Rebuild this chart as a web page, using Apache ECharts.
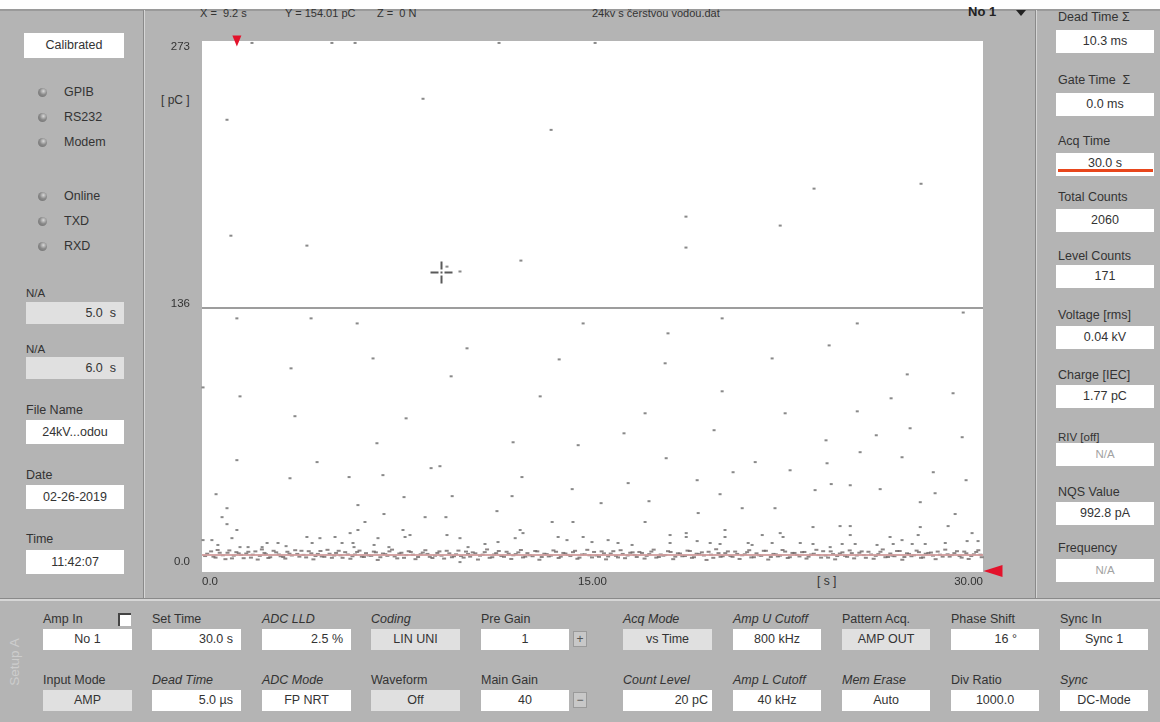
<!DOCTYPE html>
<html>
<head>
<meta charset="utf-8">
<script src="https://cdn.jsdelivr.net/npm/echarts@6/dist/echarts.min.js"></script>
<style>
  html, body { margin: 0; padding: 0; }
  body {
    width: 1160px; height: 722px; position: relative; overflow: hidden;
    background: #b4b4b4; color: #333;
    font-family: "Liberation Sans", Arial, sans-serif; font-size: 12.5px;
  }
  .t { position: absolute; white-space: nowrap; line-height: 14px; }
  .box {
    position: absolute; background: #fff; box-sizing: border-box;
    height: 22px; line-height: 22px; text-align: center; white-space: nowrap;
  }
  .grey { background: #e0e0e0; }
  .r { text-align: right; padding-right: 8px; }
  .na { color: #a2a2a2; }
  .i { font-style: italic; }
  .led {
    position: absolute; width: 9px; height: 9px; border-radius: 50%;
    background: radial-gradient(circle at 60% 35%, #d8d8d8 0, #8a8a8a 45%, #6c6c6c 100%);
  }
  .vline { position: absolute; top: 10px; height: 589px; width: 1px; background: #8a8a8a; border-right: 1px solid #d6d6d6; }
  .btn {
    position: absolute; width: 14px; height: 16px; line-height: 15px; text-align: center;
    background: #c8c8c8; border: 1px solid #9a9a9a; box-sizing: border-box; font-size: 12px; color: #555;
  }
  #chart { position: absolute; left: 145px; top: 11px; width: 890px; height: 587px; }
</style>
</head>
<body>
<div style="position:absolute;left:0;top:0;width:1160px;height:9px;background:#fff;border-bottom:2px solid #9a9a9a;"></div>
<div class="vline" style="left:143px"></div>
<div class="vline" style="left:1035px"></div>
<div style="position:absolute;left:0;top:598px;width:1160px;height:1px;background:#8a8a8a;border-bottom:2px solid #d6d6d6;"></div>

<!-- left panel -->
<div class="box" style="left:24px;top:33px;width:100px;height:25px;line-height:25px;">Calibrated</div>
<div class="led" style="left:38px;top:88px"></div><div class="t" style="left:64px;top:85px">GPIB</div>
<div class="led" style="left:38px;top:113px"></div><div class="t" style="left:64px;top:110px">RS232</div>
<div class="led" style="left:38px;top:138px"></div><div class="t" style="left:64px;top:135px">Modem</div>
<div class="led" style="left:38px;top:192px"></div><div class="t" style="left:64px;top:189px">Online</div>
<div class="led" style="left:38px;top:217px"></div><div class="t" style="left:64px;top:214px">TXD</div>
<div class="led" style="left:38px;top:242px"></div><div class="t" style="left:64px;top:239px">RXD</div>
<div class="t" style="left:26px;top:286px;font-size:11.5px">N/A</div>
<div class="box grey r" style="left:26px;top:302px;width:98px">5.0&nbsp; s</div>
<div class="t" style="left:26px;top:342px;font-size:11.5px">N/A</div>
<div class="box grey r" style="left:26px;top:357px;width:98px">6.0&nbsp; s</div>
<div class="t" style="left:26px;top:403px">File Name</div>
<div class="box" style="left:26px;top:420px;width:98px;height:24px;line-height:24px">24kV...odou</div>
<div class="t" style="left:26px;top:468px">Date</div>
<div class="box" style="left:26px;top:485px;width:98px;height:24px;line-height:24px">02-26-2019</div>
<div class="t" style="left:26px;top:532px">Time</div>
<div class="box" style="left:26px;top:550px;width:98px;height:24px;line-height:24px">11:42:07</div>

<!-- chart header -->
<div class="t" style="left:200px;top:6px;font-size:11px">X =&nbsp; 9.2 s</div>
<div class="t" style="left:285px;top:6px;font-size:11px">Y = 154.01 pC</div>
<div class="t" style="left:377px;top:6px;font-size:11px">Z =&nbsp; 0 N</div>
<div class="t" style="left:592px;top:6px;font-size:11px">24kv s čerstvou vodou.dat</div>
<div class="t" style="left:968px;top:5px;font-size:13px;font-weight:bold;color:#222">No 1</div>
<div style="position:absolute;left:1016px;top:10px;width:0;height:0;border-left:5px solid transparent;border-right:5px solid transparent;border-top:6px solid #222"></div>
<div class="t" style="left:161px;top:93px;font-size:12px">[ pC ]</div>
<div class="t" style="left:817px;top:574px;font-size:12px">[ s ]</div>

<!-- right panel -->
<div class="t" style="left:1058px;top:10px">Dead Time &Sigma;</div>
<div class="box" style="left:1056px;top:30px;width:98px;height:23px">10.3 ms</div>
<div class="t" style="left:1058px;top:73px">Gate Time &nbsp;&Sigma;</div>
<div class="box" style="left:1056px;top:93px;width:98px;height:23px">0.0 ms</div>
<div class="t" style="left:1058px;top:134px">Acq Time</div>
<div class="box" style="left:1056px;top:153px;width:98px;height:23px;line-height:21px">30.0 s</div>
<div style="position:absolute;left:1058px;top:169px;width:95px;height:3px;background:#e8461c"></div>
<div class="t" style="left:1058px;top:190px">Total Counts</div>
<div class="box" style="left:1056px;top:209px;width:98px;height:23px">2060</div>
<div class="t" style="left:1058px;top:249px">Level Counts</div>
<div class="box" style="left:1056px;top:265px;width:98px;height:23px">171</div>
<div class="t" style="left:1058px;top:308px">Voltage [rms]</div>
<div class="box" style="left:1056px;top:326px;width:98px;height:23px">0.04 kV</div>
<div class="t" style="left:1058px;top:368px">Charge [IEC]</div>
<div class="box" style="left:1056px;top:385px;width:98px;height:23px">1.77 pC</div>
<div class="t" style="left:1058px;top:430px;font-size:11.5px">RIV [off]</div>
<div class="box na" style="left:1056px;top:443px;width:98px;height:23px;font-size:11.5px">N/A</div>
<div class="t" style="left:1058px;top:485px">NQS Value</div>
<div class="box" style="left:1056px;top:502px;width:98px;height:23px">992.8 pA</div>
<div class="t" style="left:1058px;top:541px">Frequency</div>
<div class="box na" style="left:1056px;top:559px;width:98px;height:23px;font-size:11.5px">N/A</div>

<!-- bottom setup panel -->
<div class="t" style="left:-9px;top:655px;color:#cdcdcd;font-size:13.5px;transform:rotate(-90deg)">Setup A</div>
<div style="position:absolute;left:118px;top:613px;width:13px;height:13px;background:#fff;border-left:2px solid #444;border-top:2px solid #444;box-sizing:border-box"></div>

<div class="t" style="left:43px;top:612px">Amp In</div>
<div class="box" style="left:43px;top:629px;width:89px;height:21px;line-height:21px">No 1</div>
<div class="t" style="left:152px;top:612px">Set Time</div>
<div class="box r" style="left:152px;top:629px;width:89px;height:21px;line-height:21px">30.0 s</div>
<div class="t i" style="left:262px;top:612px">ADC LLD</div>
<div class="box r" style="left:262px;top:629px;width:89px;height:21px;line-height:21px">2.5 %</div>
<div class="t i" style="left:371px;top:612px">Coding</div>
<div class="box grey" style="left:371px;top:629px;width:89px;height:21px;line-height:21px">LIN UNI</div>
<div class="t" style="left:481px;top:612px">Pre Gain</div>
<div class="box" style="left:481px;top:629px;width:88px;height:21px;line-height:21px">1</div>
<div class="btn" style="left:573px;top:631px">+</div>
<div class="t i" style="left:623px;top:612px">Acq Mode</div>
<div class="box grey" style="left:623px;top:629px;width:89px;height:21px;line-height:21px">vs Time</div>
<div class="t i" style="left:733px;top:612px">Amp U Cutoff</div>
<div class="box" style="left:733px;top:629px;width:88px;height:21px;line-height:21px">800 kHz</div>
<div class="t" style="left:842px;top:612px">Pattern Acq.</div>
<div class="box grey" style="left:842px;top:629px;width:88px;height:21px;line-height:21px">AMP OUT</div>
<div class="t" style="left:951px;top:612px">Phase Shift</div>
<div class="box r" style="left:951px;top:629px;width:88px;height:21px;line-height:21px;padding-right:22px">16 °</div>
<div class="t" style="left:1060px;top:612px">Sync In</div>
<div class="box" style="left:1060px;top:629px;width:88px;height:21px;line-height:21px">Sync 1</div>

<div class="t" style="left:43px;top:673px">Input Mode</div>
<div class="box grey" style="left:43px;top:690px;width:89px;height:21px;line-height:21px">AMP</div>
<div class="t i" style="left:152px;top:673px">Dead Time</div>
<div class="box r" style="left:152px;top:690px;width:89px;height:21px;line-height:21px">5.0 µs</div>
<div class="t i" style="left:262px;top:673px">ADC Mode</div>
<div class="box" style="left:262px;top:690px;width:89px;height:21px;line-height:21px">FP NRT</div>
<div class="t" style="left:371px;top:673px">Waveform</div>
<div class="box grey" style="left:371px;top:690px;width:89px;height:21px;line-height:21px">Off</div>
<div class="t" style="left:481px;top:673px">Main Gain</div>
<div class="box" style="left:481px;top:690px;width:88px;height:21px;line-height:21px">40</div>
<div class="btn" style="left:573px;top:692px">&minus;</div>
<div class="t i" style="left:623px;top:673px">Count Level</div>
<div class="box r" style="left:623px;top:690px;width:89px;height:21px;line-height:21px;padding-right:4px">20 pC</div>
<div class="t i" style="left:733px;top:673px">Amp L Cutoff</div>
<div class="box" style="left:733px;top:690px;width:88px;height:21px;line-height:21px">40 kHz</div>
<div class="t i" style="left:842px;top:673px">Mem Erase</div>
<div class="box" style="left:842px;top:690px;width:88px;height:21px;line-height:21px">Auto</div>
<div class="t" style="left:951px;top:673px">Div Ratio</div>
<div class="box" style="left:951px;top:690px;width:88px;height:21px;line-height:21px">1000.0</div>
<div class="t i" style="left:1060px;top:673px">Sync</div>
<div class="box" style="left:1060px;top:690px;width:88px;height:21px;line-height:21px">DC-Mode</div>

<div id="chart"></div>

<script>
// axis ticks
const xTicks = [0, 15, 30];
const yTicks = [0, 136.5, 273];
const cursorPos = [9.2, 154.01];
const noiseLevel = 9;      // pink level line in the noise band
const separator = 136;     // grey line across the plot

// pulses, [time s, charge pC]
const clippedPulses = [[1.92, 272], [4.99, 272], [5.88, 272], [11.41, 272], [15.1, 272]];

const largePulses = [
  [8.49, 243.3], [0.96, 232.5], [13.41, 227.3], [1.11, 172.9], [4.03, 167.8], [12.25, 160.1],
  [9.41, 157.0], [9.91, 154.5], [27.62, 199.6], [23.51, 197.1], [18.59, 182.7], [22.21, 178.1],
  [18.59, 166.8]
];

const midPulses = [
  [1.34, 130.4], [4.19, 130.4], [5.96, 127.8], [14.64, 127.8], [19.98, 130.4], [25.17, 127.8],
  [29.24, 133.4], [17.9, 122.7], [10.18, 115.0], [24.09, 116.5], [6.57, 109.8], [13.72, 109.3],
  [21.9, 109.8], [3.42, 104.7], [17.79, 107.3], [0.04, 94.9], [9.57, 100.6], [27.09, 101.6],
  [1.46, 90.3], [12.99, 90.3], [19.98, 92.9], [26.47, 89.3], [28.85, 91.9], [3.57, 80.1],
  [7.84, 79.0], [17.02, 81.6], [22.4, 81.6], [25.17, 82.6], [16.21, 71.3], [27.2, 73.9],
  [29.2, 69.3], [6.72, 66.2], [11.95, 66.7], [23.97, 67.7], [25.9, 70.3], [14.45, 65.2],
  [19.67, 72.9], [1.34, 57.5], [4.42, 56.5], [8.8, 53.4], [9.14, 54.4], [17.83, 58.5],
  [21.25, 56.5], [24.01, 55.9], [26.89, 59.0], [25.28, 61.6], [28.09, 51.3], [29.35, 47.2],
  [5.65, 48.8], [6.95, 49.8], [12.29, 48.8], [19.02, 47.2], [20.4, 51.3], [3.38, 48.2],
  [22.59, 52.3], [0.54, 40.0], [7.76, 38.5], [11.91, 39.0], [14.22, 42.6], [16.37, 45.7],
  [19.9, 40.0], [23.55, 42.1], [24.17, 45.2], [24.9, 44.6], [26.05, 42.6], [28.16, 40.5],
  [0.96, 32.8], [8.57, 28.2], [9.37, 28.2], [11.33, 31.3], [15.33, 35.4], [17.17, 36.4],
  [19.06, 30.3], [20.75, 32.8], [22.01, 32.8], [27.59, 35.9], [28.93, 29.8], [0.77, 28.2],
  [5.99, 34.4], [6.99, 29.8], [9.61, 39.0]
];

const smallPulses = [
  [0.96, 24.6], [1.34, 21.6], [0.04, 16.4], [0.38, 16.4], [0.61, 13.9], [1.15, 17.4],
  [1.46, 12.8], [1.77, 12.8], [2.31, 12.8], [2.5, 14.9], [2.92, 14.9], [3.23, 13.3],
  [4.03, 18.0], [4.23, 14.9], [4.53, 17.4], [5.11, 18.0], [5.38, 14.9], [5.69, 20.0],
  [5.99, 21.6], [5.8, 14.9], [5.84, 12.8], [6.26, 25.7], [6.61, 13.9], [6.76, 17.4],
  [7.18, 12.8], [7.72, 21.6], [7.99, 19.0], [7.8, 18.0], [9.41, 19.0], [9.91, 17.4],
  [10.22, 12.8], [10.87, 14.4], [11.37, 15.4], [12.03, 17.4], [12.22, 21.6], [12.33, 20.0],
  [13.45, 25.7], [13.68, 18.0], [14.02, 16.4], [14.25, 25.7], [14.64, 18.0], [14.98, 15.4],
  [9.91, 5.1], [17.02, 25.7], [23.47, 23.1], [24.51, 23.6], [24.9, 23.6], [27.59, 23.1],
  [28.66, 23.6], [29.58, 20.0], [17.98, 19.0], [18.6, 20.0], [18.6, 18.0], [20.09, 21.6],
  [20.09, 18.0], [21.52, 19.0], [22.21, 20.0], [22.32, 18.0], [24.9, 19.0], [26.43, 18.0],
  [27.51, 19.0], [15.6, 16.4], [15.98, 14.9], [16.52, 13.9], [17.98, 14.9], [19.02, 15.9],
  [19.52, 14.9], [19.9, 14.4], [20.98, 14.9], [21.13, 13.9], [21.9, 14.9], [22.98, 14.9],
  [23.47, 14.4], [24.13, 12.8], [24.59, 14.4], [25.09, 14.4], [25.93, 13.9], [26.55, 14.4],
  [26.89, 16.4], [27.28, 14.4], [27.78, 14.4], [28.55, 14.9], [29.39, 15.9], [29.81, 15.9]
];

// the dense noise band around 6-12 pC
const noiseBand = [
  [0.12, 8.2], [0.35, 10.6], [0.52, 7.4], [0.68, 9.9], [0.9, 6.6], [1.05, 11.1], [1.22, 8.4],
  [1.41, 9.6], [1.6, 7.1], [1.78, 10.4], [1.95, 8.9], [2.14, 6.4], [2.3, 11.6], [2.46, 9.1],
  [2.62, 7.6], [2.85, 10.1], [3.02, 8.1], [3.2, 6.9], [3.36, 9.4], [3.58, 11.2], [3.74, 7.9],
  [3.9, 8.8], [4.1, 10.7], [4.28, 6.5], [4.45, 9.3], [4.6, 8.0], [4.82, 11.4], [4.99, 7.3],
  [5.15, 9.8], [5.32, 8.6], [5.5, 10.2], [5.7, 6.8], [5.88, 9.0], [6.05, 11.0], [6.22, 7.7],
  [6.4, 8.5], [6.6, 10.5], [6.75, 6.2], [6.95, 9.5], [7.12, 8.3], [7.3, 11.5], [7.5, 7.0],
  [7.66, 9.9], [7.85, 8.7], [8.02, 10.3], [8.2, 6.6], [8.4, 9.1], [8.58, 11.2], [8.75, 7.8],
  [8.95, 8.4], [9.12, 10.6], [9.3, 6.9], [9.5, 9.6], [9.68, 8.1], [9.85, 11.0], [10.05, 7.4],
  [10.22, 9.3], [10.4, 10.1], [10.6, 6.4], [10.78, 8.9], [10.95, 11.6], [11.15, 7.6], [11.3, 9.7],
  [11.5, 8.2], [11.7, 10.4], [11.88, 6.7], [12.05, 9.2], [12.25, 11.3], [12.42, 7.9], [12.6, 8.6],
  [12.8, 10.8], [12.96, 6.3], [13.15, 9.4], [13.32, 8.0], [13.5, 11.1], [13.7, 7.2], [13.88, 9.8],
  [14.05, 8.8], [14.25, 10.2], [14.42, 6.8], [14.6, 9.0], [14.8, 11.4], [14.98, 7.5], [15.15, 8.5],
  [15.35, 10.6], [15.52, 6.5], [15.7, 9.5], [15.9, 8.3], [16.08, 11.2], [16.25, 7.1], [16.45, 9.9],
  [16.62, 8.7], [16.8, 10.3], [17.0, 6.9], [17.18, 9.2], [17.35, 11.5], [17.55, 7.7], [17.72, 8.4],
  [17.9, 10.7], [18.1, 6.6], [18.28, 9.6], [18.45, 8.1], [18.65, 11.0], [18.82, 7.3], [19.0, 9.4],
  [19.2, 10.1], [19.38, 6.2], [19.55, 8.9], [19.75, 11.7], [19.92, 7.8], [20.1, 9.7], [20.3, 8.2],
  [20.48, 10.5], [20.65, 6.7], [20.85, 9.1], [21.02, 11.2], [21.2, 7.6], [21.4, 8.6], [21.58, 10.9],
  [21.75, 6.4], [21.95, 9.3], [22.12, 8.0], [22.3, 11.3], [22.5, 7.2], [22.68, 9.8], [22.85, 8.8],
  [23.05, 10.2], [23.22, 6.9], [23.4, 9.0], [23.6, 11.4], [23.78, 7.4], [23.95, 8.5], [24.15, 10.6],
  [24.32, 6.5], [24.5, 9.5], [24.7, 8.3], [24.88, 11.1], [25.05, 7.0], [25.25, 9.9], [25.42, 8.7],
  [25.6, 10.4], [25.8, 6.8], [25.98, 9.2], [26.15, 11.6], [26.35, 7.7], [26.52, 8.4], [26.7, 10.8],
  [26.9, 6.3], [27.08, 9.6], [27.25, 8.1], [27.45, 11.0], [27.62, 7.3], [27.8, 9.4], [28.0, 10.0],
  [28.18, 6.6], [28.35, 8.9], [28.55, 11.5], [28.72, 7.9], [28.9, 9.7], [29.1, 8.2], [29.28, 10.5],
  [29.45, 6.7], [29.65, 9.1], [29.82, 11.2], [29.95, 7.6]
];

const noiseBandInner = [
  [0.2, 9.4], [0.44, 7.9], [0.6, 11.3], [0.8, 8.6], [0.98, 9.9], [1.15, 7.0], [1.32, 10.2],
  [1.5, 8.8], [1.7, 9.5], [1.88, 7.4], [2.05, 10.6], [2.22, 8.3], [2.4, 9.8], [2.55, 7.2],
  [2.75, 10.9], [2.95, 9.0], [3.12, 7.7], [3.28, 10.4], [3.45, 8.5], [3.66, 9.3], [3.82, 10.9],
  [4.0, 7.5], [4.2, 9.6], [4.36, 8.2], [4.55, 10.8], [4.7, 7.8], [4.9, 9.4], [5.08, 8.5],
  [5.25, 10.9], [5.4, 7.3], [5.6, 9.0], [5.78, 8.1], [5.96, 10.3], [6.14, 7.9], [6.3, 9.7],
  [6.5, 8.3], [6.68, 10.1], [6.85, 7.6], [7.04, 9.2], [7.2, 10.6], [7.4, 8.0], [7.58, 9.5],
  [7.76, 7.3], [7.94, 10.7], [8.1, 8.9], [8.3, 7.7], [8.48, 10.0], [8.66, 9.3], [8.85, 7.2],
  [9.04, 9.8], [9.2, 8.4], [9.4, 10.9], [9.6, 7.6], [9.76, 9.1], [9.95, 8.2], [10.14, 10.5],
  [10.3, 7.9], [10.5, 9.6], [10.68, 8.4], [10.86, 10.2], [11.05, 7.3], [11.22, 9.0], [11.4, 10.8],
  [11.6, 7.8], [11.78, 9.4], [11.96, 8.6], [12.15, 10.1], [12.33, 7.5], [12.5, 9.7], [12.7, 8.1],
  [12.88, 10.6], [13.05, 7.7], [13.24, 9.2], [13.4, 8.4], [13.6, 10.4], [13.78, 7.9], [13.96, 9.5],
  [14.15, 8.2], [14.33, 10.9], [14.5, 7.4], [14.7, 9.1], [14.88, 8.6], [15.06, 10.3], [15.25, 7.8],
  [15.44, 9.6], [15.6, 8.0], [15.8, 10.7], [15.98, 7.5], [16.16, 9.3], [16.35, 8.5], [16.54, 10.1],
  [16.7, 7.7], [16.9, 9.8], [17.08, 8.3], [17.26, 10.5], [17.45, 7.4], [17.62, 9.0], [17.8, 8.7],
  [18.0, 10.3], [18.18, 7.9], [18.36, 9.5], [18.55, 8.2], [18.74, 10.8], [18.9, 7.6], [19.1, 9.2],
  [19.28, 8.5], [19.46, 10.4], [19.64, 7.3], [19.84, 9.7], [20.0, 8.1], [20.2, 10.6], [20.38, 7.8],
  [20.56, 9.3], [20.75, 8.6], [20.94, 10.2], [21.1, 7.5], [21.3, 9.6], [21.48, 8.3], [21.66, 10.9],
  [21.85, 7.7], [22.04, 9.1], [22.2, 8.4], [22.4, 10.5], [22.58, 7.6], [22.76, 9.8], [22.95, 8.0],
  [23.14, 10.3], [23.3, 7.9], [23.5, 9.4], [23.68, 8.7], [23.86, 10.7], [24.05, 7.4], [24.24, 9.2],
  [24.4, 8.2], [24.6, 10.1], [24.78, 7.8], [24.96, 9.7], [25.15, 8.5], [25.34, 10.6], [25.5, 7.3],
  [25.7, 9.0], [25.88, 8.3], [26.06, 10.4], [26.25, 7.6], [26.44, 9.5], [26.6, 8.1], [26.8, 10.8],
  [26.98, 7.7], [27.16, 9.3], [27.35, 8.6], [27.54, 10.2], [27.7, 7.5], [27.9, 9.8], [28.08, 8.4],
  [28.26, 10.5], [28.45, 7.9], [28.64, 9.1], [28.8, 8.7], [29.0, 10.7], [29.18, 7.4], [29.36, 9.6],
  [29.55, 8.2], [29.74, 10.3], [29.9, 8.9]
];

const chart = echarts.init(document.getElementById('chart'));

const crossPath = 'path://M0,10h8v2h-8z M14,10h8v2h-8z M10,0h2v8h-2z M10,14h2v8h-2z M10,10h2v2h-2z';

const option = {
  animation: false,
  grid: {
    left: 57, top: 30, width: 781, height: 531,
    show: true, backgroundColor: '#fff', borderWidth: 0
  },
  xAxis: {
    type: 'value', min: xTicks[0], max: xTicks[2], interval: xTicks[1] - xTicks[0],
    axisLine: { show: false }, axisTick: { show: false }, splitLine: { show: false },
    axisLabel: {
      margin: 4, color: '#333', fontSize: 11.5, fontFamily: 'Liberation Sans, Arial',
      alignMinLabel: 'left', alignMaxLabel: 'right',
      formatter: v => (v === 0 ? '0.0' : v.toFixed(2))
    }
  },
  yAxis: {
    type: 'value', min: yTicks[0], max: yTicks[2], interval: yTicks[1] - yTicks[0],
    axisLine: { show: false }, axisTick: { show: false }, splitLine: { show: false },
    axisLabel: {
      margin: 12, color: '#333', fontSize: 11.5, fontFamily: 'Liberation Sans, Arial',
      formatter: v => (v === 0 ? '{lo|0.0}' : v >= 273 ? '{hi|273}' : '{mid|' + Math.floor(v) + '}'),
      rich: {
        hi: { padding: [12, 0, 0, 0] },
        mid: { padding: [0, 0, 6, 0] },
        lo: { padding: [0, 0, 20, 0] }
      }
    }
  },
  series: [
    {
      type: 'scatter', name: 'noise', data: noiseBand.concat(noiseBandInner),
      symbol: 'rect', symbolSize: [4, 2], itemStyle: { color: '#6f6767' },
      markLine: {
        silent: true, symbol: 'none', label: { show: false },
        data: [
          { yAxis: separator, lineStyle: { color: '#7c7c7c', width: 1.5, type: 'solid' } },
          { yAxis: noiseLevel, lineStyle: { color: '#d29c9c', width: 2, type: 'solid', opacity: 0.9 } }
        ]
      }
    },
    {
      type: 'scatter', name: 'pulses',
      data: clippedPulses.concat(largePulses, midPulses, smallPulses),
      symbol: 'rect', symbolSize: [3, 2], itemStyle: { color: '#6c6c6c' },
      markPoint: {
        silent: true, label: { show: false },
        data: [
          { coord: [1.34, 273], symbol: 'triangle', symbolRotate: 180, symbolSize: [9, 11], itemStyle: { color: '#e3122b' } },
          { coord: [30, 0.5], symbol: 'triangle', symbolRotate: 90, symbolSize: [12, 19], symbolOffset: [10, 0], itemStyle: { color: '#e3122b' } },
          { coord: cursorPos, symbol: crossPath, symbolSize: 22, itemStyle: { color: '#5a5a5a' } }
        ]
      }
    }
  ]
};

chart.setOption(option);
</script>
</body>
</html>
